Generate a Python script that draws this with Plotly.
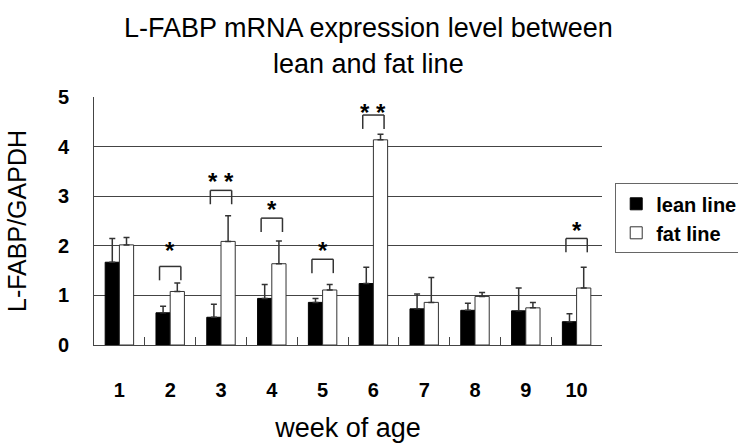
import plotly.graph_objects as go

weeks = ["1", "2", "3", "4", "5", "6", "7", "8", "9", "10"]
lean_mean = [1.67, 0.65, 0.56, 0.94, 0.86, 1.24, 0.73, 0.70, 0.69, 0.47]
lean_sd = [0.48, 0.13, 0.26, 0.28, 0.08, 0.33, 0.30, 0.14, 0.46, 0.16]
fat_mean = [2.02, 1.08, 2.09, 1.64, 1.11, 4.14, 0.86, 0.98, 0.75, 1.15]
fat_sd = [0.15, 0.17, 0.52, 0.46, 0.11, 0.11, 0.50, 0.08, 0.11, 0.42]

sig_weeks = ["2", "3", "4", "5", "6", "10"]
sig_marks = ["*", "* *", "*", "*", "* *", "*"]
bracket_top = [1.585, 3.12, 2.56, 1.73, 4.64, 2.15]
star_y = [2.01, 3.39, 2.84, 2.01, 4.80, 2.41]

title_lines = ["L-FABP mRNA expression level between", "lean and fat line"]

FONT = "Liberation Sans, Arial, sans-serif"
LINE = "#444444"

fig = go.Figure()
fig.add_trace(go.Bar(
    name="lean line", x=weeks, y=lean_mean,
    marker=dict(color="black", line=dict(color="black", width=1)),
    error_y=dict(type="data", symmetric=False, array=lean_sd,
                 arrayminus=[0] * len(lean_sd), color="#333333",
                 thickness=1.5, width=3),
))
fig.add_trace(go.Bar(
    name="fat line", x=weeks, y=fat_mean,
    marker=dict(color="white", line=dict(color="#333333", width=1)),
    error_y=dict(type="data", symmetric=False, array=fat_sd,
                 arrayminus=[0] * len(fat_sd), color="#333333",
                 thickness=1.5, width=3),
))

leg = 0.28
half = 0.21
for wk, mark, top, sy in zip(sig_weeks, sig_marks, bracket_top, star_y):
    i = weeks.index(wk)
    lc = dict(color="#333333", width=1.5)
    fig.add_shape(type="line", xref="x", yref="y", x0=i - half, x1=i + half,
                  y0=top, y1=top, line=lc)
    fig.add_shape(type="line", xref="x", yref="y", x0=i - half, x1=i - half,
                  y0=top, y1=top - leg, line=lc)
    fig.add_shape(type="line", xref="x", yref="y", x0=i + half, x1=i + half,
                  y0=top, y1=top - leg, line=lc)
    fig.add_annotation(x=i, y=sy, xref="x", yref="y", text="<b>" + mark + "</b>",
                       showarrow=False, yshift=-5,
                       font=dict(family=FONT, size=24, color="black"))

for txt, py in zip(title_lines, [1.278, 1.135]):
    fig.add_annotation(x=0.541, y=py, xref="paper", yref="paper", text=txt,
                       showarrow=False, xanchor="center", yanchor="middle",
                       font=dict(family=FONT, size=27, color="black"))

fig.update_layout(
    width=738, height=443,
    margin=dict(l=94, r=136, t=97, b=98, autoexpand=False),
    paper_bgcolor="white", plot_bgcolor="white",
    barmode="group", bargap=0.44, bargroupgap=0,
    font=dict(family=FONT, color="black"),
    legend=dict(x=1.026, y=0.652, xanchor="left", yanchor="top",
                bordercolor="#666666", borderwidth=1,
                font=dict(family=FONT, size=20, color="black", weight="bold"),
                itemwidth=30, tracegroupgap=0, bgcolor="white"),
    showlegend=True,
)
fig.update_xaxes(
    type="category", tickson="boundaries", ticks="inside", ticklen=8,
    tickcolor=LINE, tickwidth=1, showline=True, linecolor=LINE, linewidth=1,
    showgrid=False, ticklabelstandoff=27, automargin=False,
    tickfont=dict(family=FONT, size=20, color="black", weight="bold"),
    title=dict(text="week of age", standoff=18,
               font=dict(family=FONT, size=27, color="black")),
)
fig.update_yaxes(
    range=[0, 5.004], dtick=1, tick0=0, showgrid=True, gridcolor=LINE, gridwidth=1,
    showline=True, linecolor=LINE, linewidth=1, zeroline=False, ticks="",
    ticklabelstandoff=20, automargin=False,
    tickfont=dict(family=FONT, size=20, color="black", weight="bold"),
    title=dict(text="L-FABP/GAPDH", standoff=24,
               font=dict(family=FONT, size=25, color="black")),
)

fig.write_html("out.html", config={"displayModeBar": False},
               post_script="document.body.style.margin='0';")
